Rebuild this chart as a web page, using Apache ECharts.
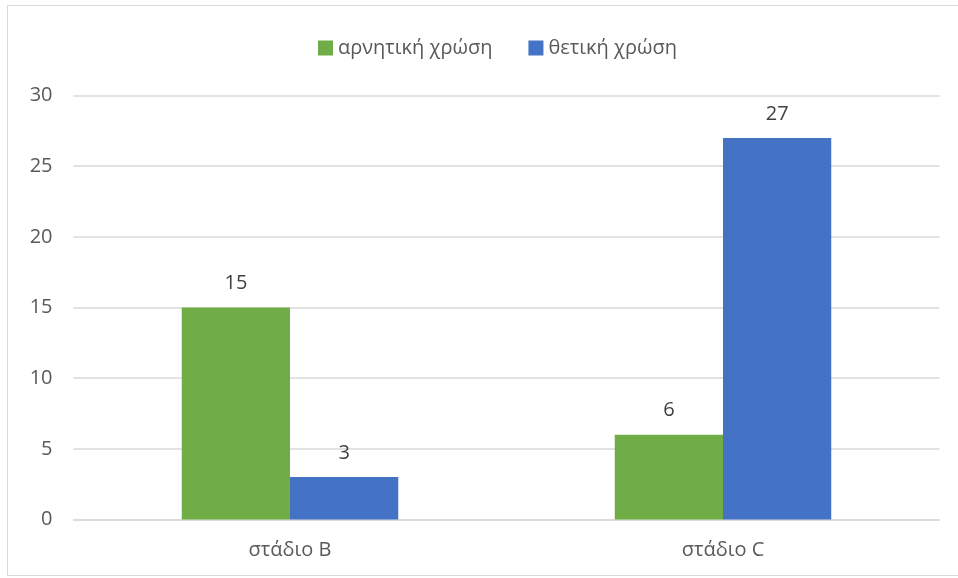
<!DOCTYPE html>
<html><head><meta charset="utf-8">
<script src="https://cdn.jsdelivr.net/npm/echarts@6/dist/echarts.min.js"></script>
<style>
html,body{margin:0;padding:0;background:#fff;}
#frame{position:absolute;left:7px;top:5px;width:960px;height:571px;border:1px solid #d9d9d9;box-sizing:border-box;}
#c{position:absolute;left:0;top:0;width:958px;height:578px;}
</style></head>
<body><div id="frame"></div><div id="c"></div>
<script>
const categories = ['στάδιο B', 'στάδιο C'];
const seriesNames = ['αρνητική χρώση', 'θετική χρώση'];
const negativeValues = [15, 6];
const positiveValues = [3, 27];
const yTicks = [0, 5, 10, 15, 20, 25, 30];

const chart = echarts.init(document.getElementById('c'));
const font = 'Open Sans';
const labelStyle = {show: true, position: 'top', distance: 14, color: '#404040', fontFamily: font, fontSize: 20};
chart.setOption({
  animation: false,
  textStyle: {fontFamily: font},
  legend: {
    top: 33, left: 313, itemWidth: 15, itemHeight: 15, itemGap: 36,
    icon: 'rect',
    textStyle: {color: '#595959', fontSize: 20, fontFamily: font},
    data: seriesNames
  },
  grid: {left: 73.5, right: 18.5, top: 95.5, bottom: 58.5, containLabel: false},
  xAxis: {
    type: 'category', data: categories,
    axisLine: {lineStyle: {color: '#d9d9d9', width: 1.5}},
    axisTick: {show: false},
    axisLabel: {color: '#595959', fontSize: 20, fontFamily: font, margin: 21}
  },
  yAxis: {
    type: 'value', min: yTicks[0], max: yTicks[yTicks.length - 1], interval: 5,
    axisLine: {show: false}, axisTick: {show: false},
    splitLine: {lineStyle: {color: '#d9d9d9', width: 1.5}},
    axisLabel: {color: '#595959', fontSize: 20, fontFamily: font, margin: 21}
  },
  series: [
    {name: seriesNames[0], type: 'bar', data: negativeValues, barGap: '0%', barCategoryGap: '50%',
     itemStyle: {color: '#70ad47'}, label: labelStyle},
    {name: seriesNames[1], type: 'bar', data: positiveValues, barGap: '0%', barCategoryGap: '50%',
     itemStyle: {color: '#4472c4'}, label: labelStyle}
  ]
});
</script></body></html>
